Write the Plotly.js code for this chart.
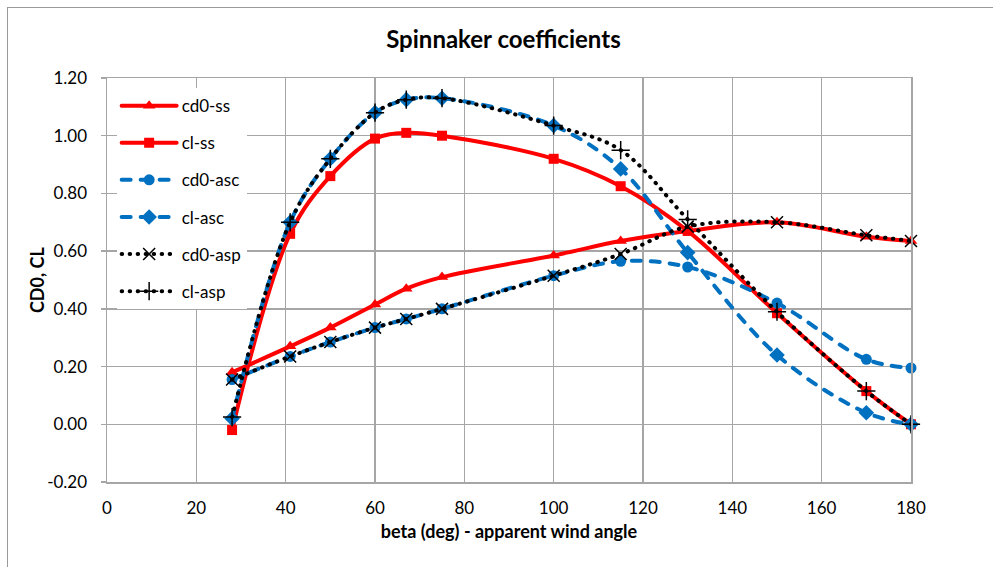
<!DOCTYPE html>
<html>
<head>
<meta charset="utf-8">
<script src="https://cdn.plot.ly/plotly-3.0.1.min.js"></script>
<style>
  html, body { margin: 0; padding: 0; background: #fff; }
  #wrap { position: relative; width: 993px; height: 567px; overflow: hidden; }
  #chart { width: 993px; height: 567px; }
  #frame { position: absolute; left: 7px; top: 7px; width: 1200px; height: 800px;
           border-left: 1.5px solid #9a9a9a; border-top: 1.5px solid #9a9a9a; pointer-events: none; }
  .js-line { stroke-linecap: round !important; }
</style>
</head>
<body>
<div id="wrap"><div id="chart"></div><div id="frame"></div></div>
<script>
// beta (deg) - apparent wind angle
const beta = [28, 41, 50, 60, 67, 75, 100, 115, 130, 150, 170, 180];
const cd0_ss  = [0.18, 0.27, 0.335, 0.415, 0.47, 0.51, 0.585, 0.635, 0.67, 0.70, 0.65, 0.635];
const cl_ss   = [-0.02, 0.66, 0.86, 0.99, 1.01, 1.00, 0.92, 0.825, 0.67, 0.385, 0.115, 0.00];
const cd0_asc = [0.155, 0.235, 0.285, 0.335, 0.365, 0.40, 0.515, 0.565, 0.545, 0.42, 0.225, 0.195];
const cl_asc  = [0.02, 0.70, 0.92, 1.08, 1.125, 1.13, 1.035, 0.885, 0.595, 0.24, 0.04, 0.00];
const cd0_asp = [0.155, 0.235, 0.285, 0.335, 0.365, 0.40, 0.515, 0.59, 0.685, 0.70, 0.655, 0.635];
const cl_asp  = [0.025, 0.70, 0.92, 1.08, 1.125, 1.13, 1.035, 0.95, 0.71, 0.39, 0.115, 0.00];
const seriesNames = ['cd0-ss', 'cl-ss', 'cd0-asc', 'cl-asc', 'cd0-asp', 'cl-asp'];
const yTickVals = [-0.2, 0, 0.2, 0.4, 0.6, 0.8, 1.0, 1.2];
const yTickText = ['-0.20', '0.00', '0.20', '0.40', '0.60', '0.80', '1.00', '1.20'];

const RED = '#ff0000', BLUE = '#0070c0', BLACK = '#000000';
const FONT = 'Lato, "Open Sans", sans-serif';

function tr(name, y, color, dash, symbol, msize, mline) {
  return {
    type: 'scatter', mode: 'lines+markers', name: name, legendgroup: name,
    x: beta, y: y,
    line: { color: color, width: 4, dash: dash, shape: 'spline', smoothing: 1 },
    marker: mline ? { symbol: symbol, size: msize, color: BLACK, line: { color: BLACK, width: 1.5 } }
                  : { symbol: symbol, size: msize, color: color },
    cliponaxis: false
  };
}

const data = [
  tr(seriesNames[0], cd0_ss, RED, 'solid', 'triangle-up', 11),
  tr(seriesNames[1], cl_ss, RED, 'solid', 'square', 10),
  tr(seriesNames[2], cd0_asc, BLUE, '9px,10px', 'circle', 11),
  tr(seriesNames[3], cl_asc, BLUE, '9px,10px', 'diamond', 12),
  tr(seriesNames[4], cd0_asp, BLACK, '0.5px,7.5px', 'x-thin', 12, true),
  tr(seriesNames[5], cl_asp, BLACK, '0.5px,7.5px', 'cross-thin', 13, true)
];

const layout = {
  width: 993, height: 567,
  margin: { l: 107, r: 82, t: 78, b: 85 },
  paper_bgcolor: '#ffffff', plot_bgcolor: '#ffffff',
  font: { family: FONT, size: 17, color: '#000' },
  title: { text: '<b>Spinnaker coefficients</b>', font: { family: FONT, size: 24, color: '#000' },
           x: 0.507, xref: 'container', y: 0.93, yref: 'container', xanchor: 'center', yanchor: 'middle' },
  showlegend: true,
  legend: { x: 0.012, y: 0.975, xanchor: 'left', yanchor: 'top', bgcolor: '#ffffff',
            font: { family: FONT, size: 17, color: '#000' }, tracegroupgap: 12, traceorder: 'grouped',
            itemwidth: 55 },
  xaxis: {
    range: [0, 180], tick0: 0, dtick: 20, tickformat: 'd',
    showgrid: true, gridcolor: '#a6a6a6', gridwidth: 1.5,
    showline: true, linecolor: '#a6a6a6', linewidth: 1.5, mirror: true,
    ticks: '', ticklabelstandoff: 10, zeroline: false,
    title: { text: '<b>beta (deg) - apparent wind angle</b>', font: { family: FONT, size: 18, color: '#000' }, standoff: 8 },
    automargin: false
  },
  yaxis: {
    range: [-0.2, 1.2], tickmode: 'array', tickvals: yTickVals, ticktext: yTickText,
    showgrid: true, gridcolor: '#a6a6a6', gridwidth: 1.5,
    showline: true, linecolor: '#a6a6a6', linewidth: 1.5, mirror: true,
    ticks: 'outside', ticklen: 5, tickcolor: '#a6a6a6', tickwidth: 1.5, ticklabelstandoff: 10,
    zeroline: false,
    automargin: false
  },
  annotations: [{
    text: '<b>CD0, CL</b>', font: { family: FONT, size: 18, color: '#000' },
    xref: 'paper', yref: 'paper', x: -0.087, y: 0.5, xanchor: 'center', yanchor: 'middle',
    textangle: -90, showarrow: false
  }]
};

Plotly.newPlot('chart', data, layout, { staticPlot: true, displayModeBar: false });
</script>
</body>
</html>
